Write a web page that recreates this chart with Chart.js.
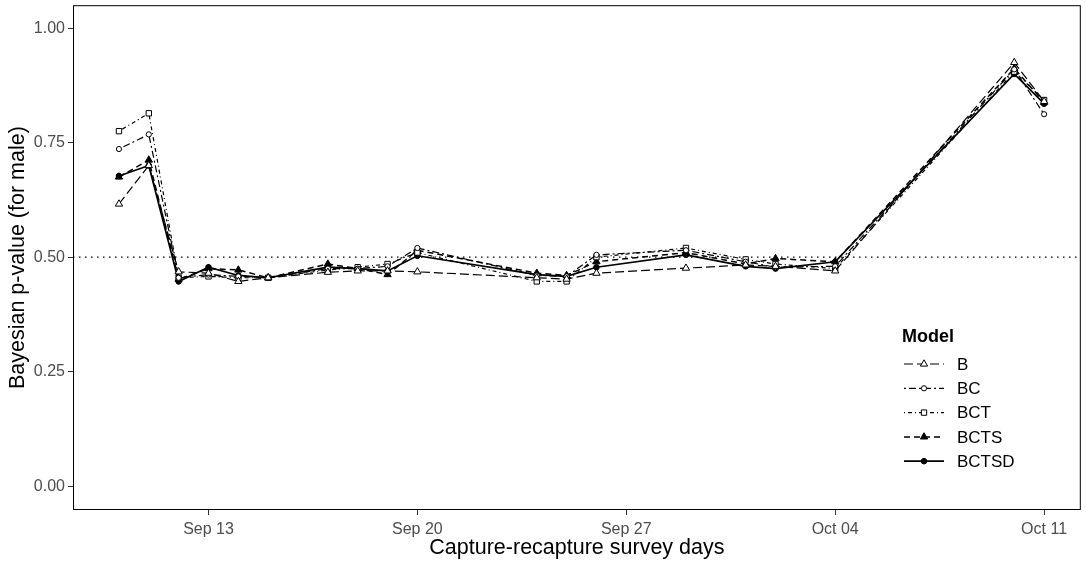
<!DOCTYPE html>
<html>
<head>
<meta charset="utf-8">
<script src="https://cdn.jsdelivr.net/npm/chart.js@4.4.0/dist/chart.umd.min.js"></script>
<style>
  html, body { margin: 0; padding: 0; background: #fff; }
  #wrap { width: 1086px; height: 563px; }
</style>
</head>
<body>
<div id="wrap"><canvas id="pChart" width="1086" height="563"></canvas></div>
<script>
// survey days and model p-values
const surveyDates = ['2021-09-10', '2021-09-11', '2021-09-12', '2021-09-13', '2021-09-14', '2021-09-15',
  '2021-09-17', '2021-09-18', '2021-09-19', '2021-09-20', '2021-09-24', '2021-09-25', '2021-09-26',
  '2021-09-29', '2021-10-01', '2021-10-02', '2021-10-04', '2021-10-10', '2021-10-11'];

const modelNames = ['B', 'BC', 'BCT', 'BCTS', 'BCTSD'];

const pB     = [0.616, 0.700, 0.468, 0.465, 0.447, 0.455, 0.467, 0.470, 0.470, 0.468, 0.455, 0.452, 0.465, 0.476, 0.483, 0.480, 0.470, 0.925, 0.840];
const pBC    = [0.736, 0.768, 0.455, 0.462, 0.458, 0.455, 0.475, 0.475, 0.480, 0.520, 0.460, 0.458, 0.505, 0.515, 0.490, 0.478, 0.480, 0.910, 0.812];
const pBCT   = [0.775, 0.814, 0.455, 0.458, 0.455, 0.455, 0.472, 0.478, 0.485, 0.510, 0.447, 0.447, 0.500, 0.520, 0.495, 0.485, 0.475, 0.905, 0.843];
const pBCTS  = [0.675, 0.712, 0.452, 0.475, 0.472, 0.455, 0.485, 0.475, 0.462, 0.515, 0.465, 0.460, 0.490, 0.510, 0.485, 0.497, 0.490, 0.912, 0.838];
const pBCTSD = [0.677, 0.700, 0.447, 0.478, 0.460, 0.455, 0.478, 0.475, 0.470, 0.503, 0.462, 0.458, 0.478, 0.505, 0.480, 0.475, 0.490, 0.900, 0.835];

const xTickDates = ['2021-09-13', '2021-09-20', '2021-09-27', '2021-10-04', '2021-10-11'];
const xTickLabels = ['Sep 13', 'Sep 20', 'Sep 27', 'Oct 04', 'Oct 11'];
const yTicks = [0, 0.25, 0.5, 0.75, 1];
const refLine = 0.5;

const FONT = '"Liberation Sans", Arial, sans-serif';

// days counted from Sep 1
const base = Date.UTC(2021, 8, 1);
const toDay = s => (Date.parse(s + 'T00:00:00Z') - base) / 86400000 + 1;
const xDays = surveyDates.map(toDay);
const xTicks = xTickDates.map(toDay);

const styles = [
  { dash: [9, 4],       point: 'triangle', r: 4.2, fill: '#fff', w: 1.2 },
  { dash: [2, 3, 7, 3], point: 'circle',   r: 2.6, fill: '#fff', w: 1.2 },
  { dash: [1, 3, 4, 3], point: 'rect',     r: 3.8, fill: '#fff', w: 1.2 },
  { dash: [6, 4],       point: 'triangle', r: 4.2, fill: '#000', w: 1.5 },
  { dash: [],           point: 'circle',   r: 2.8, fill: '#000', w: 1.7 }
];
const series = [pB, pBC, pBCT, pBCTS, pBCTSD];

const datasets = series.map((vals, i) => ({
  label: modelNames[i],
  data: vals.map((v, j) => ({ x: xDays[j], y: v })),
  borderColor: '#000',
  borderWidth: styles[i].w,
  borderDash: styles[i].dash,
  pointStyle: styles[i].point,
  pointRadius: styles[i].r,
  pointBackgroundColor: styles[i].fill,
  pointBorderColor: '#000',
  pointBorderWidth: 1,
  tension: 0,
  fill: false
}));

// panel frame + dotted reference + legend
const extras = {
  id: 'extras',
  beforeDatasetsDraw(chart) {
    const { ctx, chartArea: a, scales } = chart;
    const y = scales.y.getPixelForValue(refLine);
    ctx.save();
    ctx.strokeStyle = '#000';
    ctx.lineWidth = 1.3;
    ctx.setLineDash([1.5, 4.5]);
    ctx.beginPath();
    ctx.moveTo(a.left, y);
    ctx.lineTo(a.right, y);
    ctx.stroke();
    ctx.restore();
  },
  afterDraw(chart) {
    const { ctx, chartArea: a } = chart;
    ctx.save();
    ctx.strokeStyle = '#000';
    ctx.lineWidth = 1;
    ctx.strokeRect(a.left + 0.5, a.top + 0.5, a.right - a.left - 1, a.bottom - a.top - 1);

    ctx.fillStyle = '#000';
    ctx.textBaseline = 'middle';
    ctx.font = 'bold 18px ' + FONT;
    ctx.fillText('Model', 902, 337);
    ctx.font = '17px ' + FONT;
    modelNames.forEach((name, i) => {
      const yy = 364 + i * 24.3;
      const s = styles[i];
      ctx.strokeStyle = '#000';
      ctx.lineWidth = s.w;
      ctx.setLineDash(s.dash);
      ctx.beginPath();
      ctx.moveTo(904, yy);
      ctx.lineTo(944, yy);
      ctx.stroke();
      ctx.setLineDash([]);
      ctx.lineWidth = 1;
      ctx.fillStyle = s.fill;
      Chart.helpers.drawPoint(ctx, { pointStyle: s.point, radius: s.r, rotation: 0, borderWidth: 1 }, 924, yy);
      ctx.fillStyle = '#000';
      ctx.fillText(name, 957, yy + 1);
    });
    ctx.restore();
  }
};

new Chart(document.getElementById('pChart').getContext('2d'), {
  type: 'line',
  data: { datasets: datasets },
  plugins: [extras],
  options: {
    responsive: false,
    animation: false,
    layout: { padding: { top: 5, right: 1, left: 0, bottom: 0 } },
    plugins: { legend: { display: false }, tooltip: { enabled: false } },
    scales: {
      x: {
        type: 'linear',
        min: 8.46,
        max: 42.23,
        afterBuildTicks: s => { s.ticks = xTicks.map(v => ({ value: v })); },
        afterFit: s => { s.height = 53; s.paddingLeft = 0; s.paddingRight = 0; },
        border: { display: false },
        grid: { drawOnChartArea: false, tickLength: 5, tickColor: '#333', lineWidth: 1 },
        ticks: {
          color: '#4d4d4d',
          font: { family: FONT, size: 16 },
          padding: 5,
          maxRotation: 0,
          callback: (v, i) => xTickLabels[i]
        },
        title: {
          display: true,
          text: 'Capture-recapture survey days',
          color: '#000',
          font: { family: FONT, size: 21.5 },
          padding: { top: 0, bottom: 2 }
        }
      },
      y: {
        min: -0.052,
        max: 1.05,
        afterBuildTicks: s => { s.ticks = yTicks.map(v => ({ value: v })); },
        afterFit: s => { s.width = 73; s.paddingTop = 0; s.paddingBottom = 0; },
        border: { display: false },
        grid: { drawOnChartArea: false, tickLength: 5, tickColor: '#333', lineWidth: 1 },
        ticks: {
          color: '#4d4d4d',
          font: { family: FONT, size: 16 },
          padding: 3,
          callback: v => v.toFixed(2)
        },
        title: {
          display: true,
          text: 'Bayesian p-value (for male)',
          color: '#000',
          font: { family: FONT, size: 21.5 },
          padding: { top: 5, bottom: 0 }
        }
      }
    }
  }
});
</script>
</body>
</html>
